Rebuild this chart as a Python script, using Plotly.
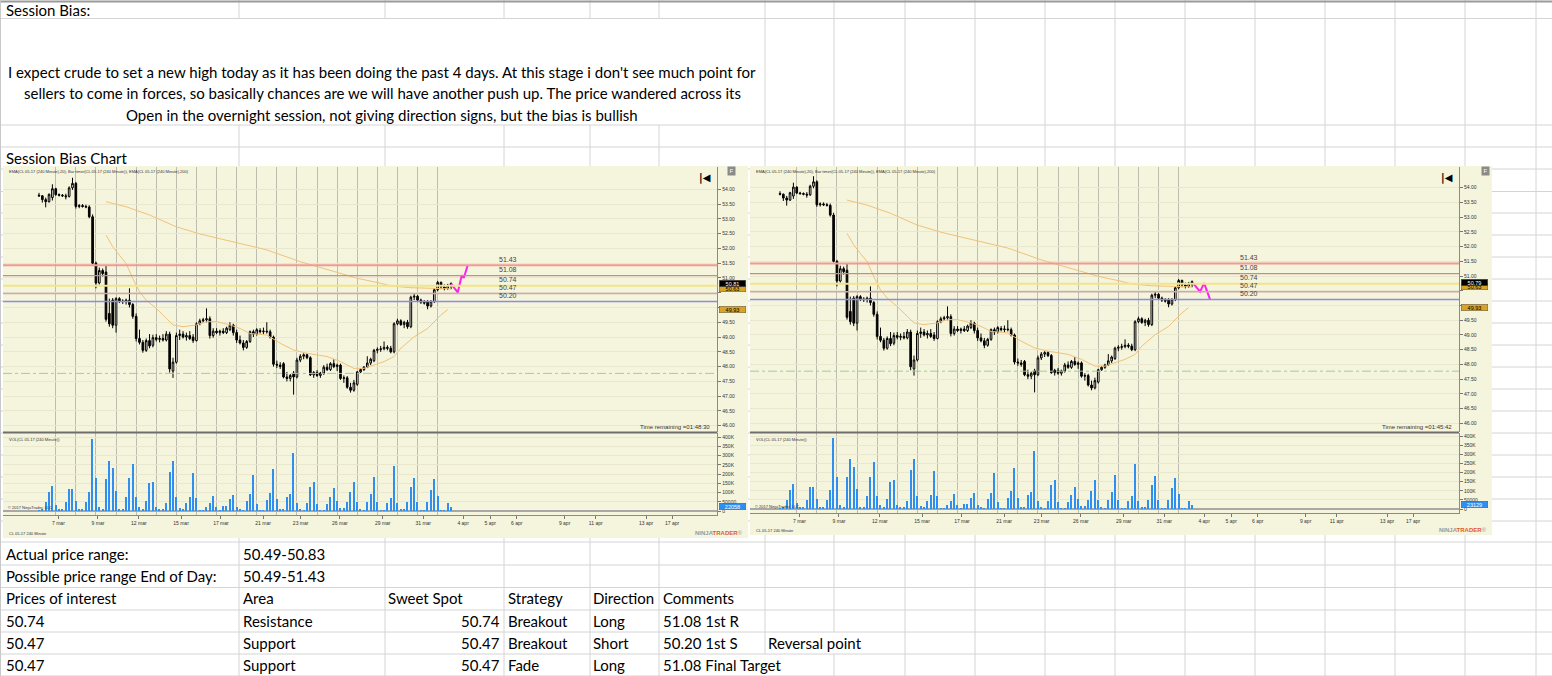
import plotly.graph_objects as go

W, H = 1552, 676

# CL 05-17, 240 minute bars (bar 0 = first bar shown)
open_ = [53.80, 53.78, 53.65, 53.58, 53.72, 54.02, 53.82, 53.80, 53.78, 53.76,
         54.05, 54.20, 53.42, 53.45, 53.42, 53.40, 53.07, 51.50, 50.83, 51.25,
         51.20, 49.80, 50.25, 49.40, 50.30, 50.22, 50.20, 50.25, 50.10, 49.70,
         48.95, 48.82, 48.55, 48.88, 48.72, 48.98, 48.92, 48.95, 48.90, 49.10,
         47.85, 48.15, 49.05, 49.10, 49.00, 49.05, 49.00, 48.88, 49.45, 49.55,
         49.58, 49.62, 49.05, 49.20, 49.15, 49.20, 49.15, 49.25, 49.40, 49.15,
         48.90, 48.80, 48.65, 48.85, 49.18, 49.10, 49.22, 49.18, 49.20, 49.18,
         49.00, 48.08, 48.05, 48.10, 47.65, 47.60, 47.78, 47.65, 48.22, 48.35,
         48.40, 48.30, 47.72, 47.80, 47.70, 47.78, 47.98, 47.90, 48.10, 48.00,
         48.05, 47.60, 47.62, 47.30, 47.20, 47.40, 47.82, 47.90, 47.98, 48.12,
         48.20, 48.55, 48.58, 48.60, 48.65, 48.62, 48.50, 49.45, 49.55, 49.42,
         49.50, 49.35, 50.35, 50.38, 50.25, 50.18, 50.20, 50.05, 50.20, 50.60,
         50.85, 50.70, 50.65, 50.72]
high = [53.88, 53.80, 53.72, 53.86, 54.17, 54.05, 53.86, 53.84, 53.85, 54.10,
        54.39, 54.25, 53.50, 53.50, 53.48, 53.46, 53.15, 51.55, 51.35, 51.32,
        51.43, 50.30, 50.32, 50.35, 50.35, 50.28, 50.30, 50.65, 50.15, 49.80,
        49.25, 48.90, 48.95, 49.10, 49.08, 49.10, 49.05, 49.10, 49.20, 49.18,
        48.30, 49.15, 49.25, 49.20, 49.15, 49.20, 49.10, 49.50, 49.62, 49.65,
        49.97, 49.70, 49.30, 49.30, 49.25, 49.30, 49.35, 49.50, 49.45, 49.25,
        49.05, 48.90, 48.90, 49.22, 49.25, 49.30, 49.30, 49.32, 49.50, 49.25,
        49.05, 48.20, 48.15, 48.15, 47.82, 47.75, 47.85, 48.30, 48.42, 48.45,
        48.45, 48.35, 47.85, 47.88, 47.82, 48.05, 48.10, 48.15, 48.25, 48.10,
        48.10, 47.70, 47.68, 47.45, 47.55, 47.85, 47.95, 48.02, 48.35, 48.30,
        48.60, 48.65, 48.70, 48.85, 48.72, 48.70, 49.50, 49.62, 49.60, 49.55,
        49.58, 50.40, 50.48, 50.42, 50.30, 50.25, 50.25, 50.25, 50.65, 50.90,
        50.88, 50.78, 50.80, 50.85]
low = [53.74, 53.55, 53.39, 53.55, 53.62, 53.78, 53.76, 53.74, 53.66, 53.72,
       53.98, 53.35, 53.36, 53.38, 53.36, 53.02, 51.46, 50.65, 50.78, 51.05,
       49.52, 49.35, 49.30, 49.15, 50.15, 50.12, 50.10, 50.00, 49.62, 48.85,
       48.75, 48.47, 48.50, 48.62, 48.65, 48.85, 48.82, 48.85, 48.85, 47.80,
       47.62, 48.10, 48.90, 48.95, 48.88, 48.90, 48.80, 48.85, 49.40, 49.48,
       49.50, 48.95, 48.98, 49.10, 49.05, 49.10, 49.10, 49.20, 49.05, 48.80,
       48.75, 48.55, 48.60, 48.80, 49.00, 49.05, 49.12, 49.10, 49.12, 48.95,
       48.00, 47.95, 47.92, 47.60, 47.50, 47.50, 47.05, 47.60, 48.15, 48.25,
       48.25, 47.68, 47.62, 47.65, 47.62, 47.72, 47.85, 47.85, 47.95, 47.85,
       47.55, 47.45, 47.25, 47.12, 47.15, 47.35, 47.78, 47.85, 47.95, 48.05,
       48.15, 48.45, 48.50, 48.55, 48.55, 48.45, 48.45, 49.40, 49.38, 49.30,
       49.28, 49.30, 50.25, 50.20, 50.12, 50.10, 49.94, 50.00, 50.15, 50.55,
       50.62, 50.58, 50.60, 50.62]
close = [53.78, 53.65, 53.58, 53.83, 54.02, 53.82, 53.80, 53.78, 53.75, 54.05,
         54.20, 53.42, 53.45, 53.42, 53.40, 53.07, 51.50, 50.83, 51.25, 51.15,
         49.60, 49.45, 49.40, 50.30, 50.22, 50.20, 50.25, 50.10, 49.70, 48.95,
         48.82, 48.55, 48.88, 48.70, 48.98, 48.92, 48.95, 48.90, 49.10, 47.92,
         48.15, 49.05, 49.10, 49.00, 49.05, 48.95, 48.88, 49.45, 49.55, 49.58,
         49.62, 49.05, 49.20, 49.15, 49.20, 49.15, 49.30, 49.40, 49.15, 48.90,
         48.80, 48.65, 48.85, 49.18, 49.10, 49.25, 49.18, 49.20, 49.18, 49.00,
         48.08, 48.05, 48.00, 47.65, 47.60, 47.70, 47.65, 48.22, 48.35, 48.40,
         48.30, 47.72, 47.80, 47.70, 47.78, 47.98, 47.90, 48.10, 48.00, 48.05,
         47.60, 47.62, 47.30, 47.20, 47.45, 47.82, 47.90, 47.98, 48.12, 48.25,
         48.55, 48.58, 48.60, 48.65, 48.62, 48.50, 49.45, 49.55, 49.42, 49.50,
         49.35, 50.35, 50.38, 50.25, 50.18, 50.15, 50.05, 50.20, 50.60, 50.85,
         50.70, 50.65, 50.75, 50.81]
volume = [5000, 6000, 50000, 105000, 136000, 33000, 10000, 8000, 50000, 118000,
          121000, 54000, 9000, 9000, 50000, 103000, 389000, 177000, 23000, 10000,
          174000, 273000, 232000, 108000, 10000, 10000, 74000, 177000, 255000, 74000,
          23000, 10000, 54000, 150000, 160000, 23000, 9000, 9000, 42000, 212000,
          273000, 74000, 14000, 10000, 42000, 78000, 208000, 69000, 5000, 5000,
          23000, 45000, 81000, 23000, 5000, 27000, 29000, 63000, 87000, 23000,
          9000, 5000, 54000, 90000, 195000, 38000, 5000, 5000, 60000, 96000,
          226000, 63000, 10000, 10000, 78000, 92000, 317000, 45000, 9000, 5000,
          42000, 132000, 160000, 38000, 5000, 5000, 38000, 78000, 123000, 56000,
          14000, 14000, 47000, 101000, 160000, 51000, 9000, 5000, 51000, 92000,
          186000, 51000, 5000, 5000, 45000, 69000, 244000, 45000, 9000, 9000,
          51000, 132000, 181000, 51000, 5000, 5000, 51000, 114000, 172000, 81000,
          5000, 5000, 45000, 22058]
bars = list(range(len(close)))

ema20_bar = [20, 22, 24, 26, 28, 30, 32, 35, 38, 40, 43, 47, 50, 53, 57, 60, 63,
             68, 72, 76, 80, 86, 90, 94, 97, 100, 103, 106, 108, 112, 116, 120, 122]
ema20 = [52.45, 52.06, 51.77, 51.49, 50.98, 50.53, 50.25, 49.97, 49.63, 49.41,
         49.35, 49.41, 49.52, 49.52, 49.41, 49.29, 49.12, 49.07, 48.79, 48.56,
         48.45, 48.34, 48.17, 47.94, 47.94, 48.06, 48.17, 48.34, 48.62, 49.01,
         49.29, 49.75, 49.93]
ema200_bar = [20, 26, 33, 41, 48, 58, 68, 78, 88, 95, 102, 105, 111, 119, 123]
ema200 = [53.58, 53.41, 53.13, 52.73, 52.49, 52.23, 51.95, 51.55, 51.21, 50.99,
          50.82, 50.73, 50.67, 50.65, 50.63]

levels = [51.43, 51.08, 50.74, 50.47, 50.20]
support_line = 47.77

proj_left_bar = [123, 125, 126.2, 126.8, 128]
proj_left = [50.80, 50.51, 51.09, 51.00, 51.44]
proj_right_bar = [123.4, 125.4, 126.6, 128.4]
proj_right = [50.74, 50.47, 50.76, 50.20]

date_ticks = [5.8, 17.6, 29.8, 42.4, 54.3, 66.9, 78.1, 89.8, 102.6, 114.7,
              126.6, 134.7, 142.6, 156.9, 166.2, 181.2, 189.0]
date_labels = ["7 mar", "9 mar", "12 mar", "15 mar", "17 mar", "21 mar", "23 mar",
               "26 mar", "29 mar", "31 mar", "4 apr", "5 apr", "6 apr", "9 apr",
               "11 apr", "13 apr", "17 apr"]
price_ticks = [46.0, 46.5, 47.0, 47.5, 48.0, 48.5, 49.0, 49.5, 50.0, 50.5, 51.0,
               51.5, 52.0, 52.5, 53.0, 53.5, 54.0]
price_labels = ["46.00", "46.50", "47.00", "47.50", "48.00", "48.50", "49.00", "49.50",
                "", "", "51.00", "51.50", "52.00", "52.50", "53.00", "53.50", "54.00"]
vol_ticks = [0, 50000, 100000, 150000, 200000, 250000, 300000, 350000, 400000]
vol_labels = ["0", "50000", "100K", "150K", "200K", "250K", "300K", "350K", "400K"]

level_colors = ["#f29a92", "#c98a8a", "#f3e48a", "#d4a8a8", "#8c8ce0"]
level_widths = [2, 1.2, 2, 1.5, 1.5]

BG = "#f5f4dc"
CHART_FONT = "Liberation Sans"
SHEET_FONT = "Lato"

fig = go.Figure()
shapes = []
annotations = []


def fx(px):
    return px / W


def fy(py):
    return 1 - py / H


def note(text, px, py, size=15, anchor="left", color="black", family=SHEET_FONT, **kw):
    annotations.append(dict(text=text, x=fx(px), y=fy(py), xref="paper", yref="paper",
                            xanchor=anchor, yanchor="middle", showarrow=False,
                            font=dict(size=size, color=color, family=family), **kw))


# ---------------- spreadsheet grid ----------------
rows = [18.5, 125, 147, 169, 191.5, 213, 235, 257, 279, 301, 323, 345, 367, 389,
        411, 433, 455, 477, 499, 521, 542, 565, 587.5, 610, 632, 654, 676]
cols = [239, 385, 504, 590, 659, 765, 834, 905, 975, 1045, 1115, 1185, 1255,
        1325, 1395, 1465, 1536]
grid = dict(color="#d4d4d4", width=1)
for r in rows:
    shapes.append(dict(type="line", xref="paper", yref="paper", x0=0, x1=1,
                       y0=fy(r), y1=fy(r), line=grid, layer="below"))
for c in cols:
    # merged text cell in row 2, overflowing texts in the last two rows
    if c < 765:
        segs = [(0, 18.5), (125, 676)]
    elif c == 765:
        segs = [(0, 654)]
    elif c == 834:
        segs = [(0, 632), (654, 676)]
    else:
        segs = [(0, 676)]
    for a, b in segs:
        shapes.append(dict(type="line", xref="paper", yref="paper", x0=fx(c), x1=fx(c),
                           y0=fy(a), y1=fy(b), line=grid, layer="below"))
shapes.append(dict(type="line", xref="paper", yref="paper", x0=0, x1=1, y0=fy(1.5),
                   y1=fy(1.5), line=dict(color="#9a9a9a", width=2), layer="below"))
shapes.append(dict(type="line", xref="paper", yref="paper", x0=fx(0.5), x1=fx(0.5), y0=0,
                   y1=1, line=dict(color="#c8c8c8", width=1), layer="below"))

# ---------------- spreadsheet text ----------------
note("Session Bias:", 4, 10)
note("I expect crude to set a new high today as it has been doing the past 4 days. "
     "At this stage i don't see much point for", 382, 72, anchor="center")
note("sellers to come in forces, so basically chances are we will have another push up. "
     "The price wandered across its", 382, 93, anchor="center")
note("Open in the overnight session, not giving direction signs, but the bias is bullish",
     382, 115, anchor="center")
note("Session Bias Chart", 4, 158)

table = [
    ["Actual price range:", "50.49-50.83", "", "", "", "", ""],
    ["Possible price range End of Day:", "50.49-51.43", "", "", "", "", ""],
    ["Prices of interest", "Area", "Sweet Spot", "Strategy", "Direction", "Comments", ""],
    ["50.74", "Resistance", "50.74", "Breakout", "Long", "51.08 1st R", ""],
    ["50.47", "Support", "50.47", "Breakout", "Short", "50.20 1st S", "Reversal point"],
    ["50.47", "Support", "50.47", "Fade", "Long", "51.08 Final Target", ""],
]
col_x = [4, 241, 386, 506, 591, 661, 766]
for r, row in enumerate(table):
    py = 554 + 22.2 * r
    for c, txt in enumerate(row):
        if not txt:
            continue
        if c == 2 and r >= 3:
            note(txt, 502, py, anchor="right")
        else:
            note(txt, col_x[c], py)


# ---------------- NinjaTrader charts ----------------
def add_chart(p, v, x0, x1, right, top, bottom, shift, y54, ppd, v0, v400, vbot,
              proj_bar, proj_y, last_price, last_vol, timer, f_px):
    ysep = 432
    pid = "" if p == 1 else str(p)
    xp, yp, xv, yv = "x" + pid, "y" + pid, "x" + str(v), "y" + str(v)
    xr = [(x0 - shift - 39) / 3.35, (x1 - shift - 39) / 3.35]
    yr = [54 - (ysep - y54) / ppd, 54 + (y54 - top - 1) / ppd]
    per = 400000 / (v0 - v400)
    vr = [-(vbot - v0) * per, (v0 - ysep - 1) * per]
    day_lines = [5 + 6 * k for k in range(20)]

    shapes.append(dict(type="rect", xref="paper", yref="paper", x0=fx(x0), x1=fx(right),
                       y0=fy(bottom), y1=fy(top), fillcolor=BG, line=dict(width=0),
                       layer="below"))

    fig.add_trace(go.Candlestick(
        x=bars, open=open_, high=high, low=low, close=close, xaxis=xp, yaxis=yp,
        increasing=dict(line=dict(color="black", width=1), fillcolor="white"),
        decreasing=dict(line=dict(color="black", width=1), fillcolor="black"),
        whiskerwidth=0, showlegend=False, hoverinfo="skip"))
    fig.add_trace(go.Scatter(x=ema200_bar, y=ema200, mode="lines", xaxis=xp, yaxis=yp,
                             line=dict(color="#f0c27a", width=1), showlegend=False))
    fig.add_trace(go.Scatter(x=ema20_bar, y=ema20, mode="lines", xaxis=xp, yaxis=yp,
                             line=dict(color="#f0c27a", width=1), showlegend=False))
    fig.add_trace(go.Scatter(x=proj_bar, y=proj_y, mode="lines", xaxis=xp, yaxis=yp,
                             line=dict(color="#ff22ee", width=2), showlegend=False))
    fig.add_trace(go.Bar(x=bars, y=volume, xaxis=xv, yaxis=yv, width=0.38,
                         marker=dict(color="#2f8ff0", line=dict(width=0)),
                         showlegend=False))

    for lv, col, lw in zip(levels, level_colors, level_widths):
        shapes.append(dict(type="line", xref=xp + " domain", yref=yp, x0=0, x1=1,
                           y0=lv, y1=lv, line=dict(color=col, width=lw)))
        annotations.append(dict(text=f"{lv:.2f}", x=140, y=lv, xref=xp, yref=yp,
                                showarrow=False, yshift=6,
                                font=dict(size=7, color="#444", family=CHART_FONT)))
    shapes.append(dict(type="line", xref=xp + " domain", yref=yp, x0=0, x1=1,
                       y0=support_line, y1=support_line,
                       line=dict(color="#9ccf9c", width=1, dash="dashdot")))
    # pane separator
    shapes.append(dict(type="line", xref="paper", yref="paper", x0=fx(x0), x1=fx(x1),
                       y0=fy(ysep + 0.5), y1=fy(ysep + 0.5),
                       line=dict(color="#6e6e6e", width=2)))

    axis_font = dict(size=5, color="#333", family=CHART_FONT)
    fig.layout["xaxis" + pid] = dict(
        domain=[fx(x0), fx(x1)], range=xr, anchor=yp, showticklabels=False,
        tickvals=day_lines, ticks="", showgrid=True,
        gridcolor="#bdbdb0", gridwidth=1, zeroline=False, rangeslider=dict(visible=False),
        showline=False)
    fig.layout["yaxis" + pid] = dict(
        domain=[fy(ysep), fy(top + 1)], range=yr, anchor=xp, side="right",
        tickvals=price_ticks, ticktext=price_labels, ticks="outside", ticklen=3,
        tickcolor="#777", tickfont=axis_font, showgrid=True, gridcolor="#e9e8cf",
        zeroline=False, showline=True, linecolor="#8a8a8a", linewidth=1)
    fig.layout["xaxis" + str(v)] = dict(
        domain=[fx(x0), fx(x1)], range=xr, anchor=yv, tickvals=date_ticks,
        ticktext=date_labels, ticks="outside", ticklen=3, tickcolor="#777",
        tickfont=axis_font, showgrid=False, zeroline=False, showline=True,
        linecolor="#8a8a8a", linewidth=1,
        minor=dict(tickvals=day_lines, showgrid=True, gridcolor="#bdbdb0", ticks=""))
    fig.layout["yaxis" + str(v)] = dict(
        domain=[fy(vbot), fy(ysep + 1)], range=vr, anchor=xv, side="right",
        tickvals=vol_ticks, ticktext=vol_labels, ticks="outside", ticklen=3,
        tickcolor="#777", tickfont=axis_font, showgrid=True, gridcolor="#e9e8cf",
        zeroline=True, zerolinecolor="#a8a8a8", showline=True, linecolor="#8a8a8a",
        linewidth=1)

    header = ("EMA(CL 05-17 (240 Minute),20), Bar timer(CL 05-17 (240 Minute)), "
              "EMA(CL 05-17 (240 Minute),200)")
    note(header, x0 + 4, top + 6, size=4, family=CHART_FONT, color="#333")
    note("VOL(CL 05-17 (240 Minute))", x0 + 4, 439, size=4, family=CHART_FONT, color="#333")
    note("© 2017 NinjaTrader, LLC", x0 + 3, vbot - 7, size=4, family=CHART_FONT,
         color="#333")
    note("CL 05-17 240 Minute", x0 + 4, bottom - 5, size=4, family=CHART_FONT,
         color="#333")
    note("<b>NINJA</b><b><span style='color:#e05a2a'>TRADER</span></b>®", right - 3,
         bottom - 5, size=6, anchor="right", family=CHART_FONT, color="#999")
    note(f"Time remaining ={timer}", x1 - 5, ysep - 5, size=6, anchor="right",
         family=CHART_FONT, color="#333")
    note("<b>|◀</b>", x1 - 12, top + 12, size=10, anchor="center", family="DejaVu Sans")
    note("F", f_px, top + 5, size=6, anchor="center", family=CHART_FONT, color="white",
         bgcolor="#8a8a8a", width=7, height=8, borderpad=0)

    def marker(val, yref, bg, fg, text):
        annotations.append(dict(text=text, x=fx(x1 + 2), y=val, xref="paper", yref=yref,
                                xanchor="left", yanchor="middle", showarrow=False,
                                bgcolor=bg, bordercolor="#555", borderwidth=0.5,
                                width=26, height=6, borderpad=0,
                                font=dict(size=5.5, color=fg, family=CHART_FONT)))

    marker(ema20[-1], yp, "#d9a323", "black", f"{ema20[-1]:.2f}")
    marker(ema200[-1], yp, "#d9a323", "black", f"{ema200[-1]:.2f}")
    marker(last_price, yp, "black", "white", f"{last_price:.2f}")
    marker(last_vol, yv, "#2f8ff0", "white", f"{last_vol}")


add_chart(1, 2, 3, 717.3, 748, 166, 538, 0, 189.3, 29.55, 511, 437.3, 515,
          proj_left_bar, proj_left, close[-1], volume[-1], "01:48:30", 731)
add_chart(3, 4, 750, 1459, 1492, 166, 535, 741, 187.7, 29.45, 509, 436, 513,
          proj_right_bar, proj_right, 50.79, 23129, "01:45:42", 1485)

fig.update_layout(width=W, height=H, margin=dict(l=0, r=0, t=0, b=0),
                  paper_bgcolor="white", plot_bgcolor="rgba(0,0,0,0)",
                  shapes=shapes, annotations=annotations, showlegend=False,
                  bargap=0, hovermode=False)

fig.write_html("out.html", config={"displayModeBar": False},
               post_script="document.body.style.margin='0';"
                           "document.body.style.overflow='hidden';")
